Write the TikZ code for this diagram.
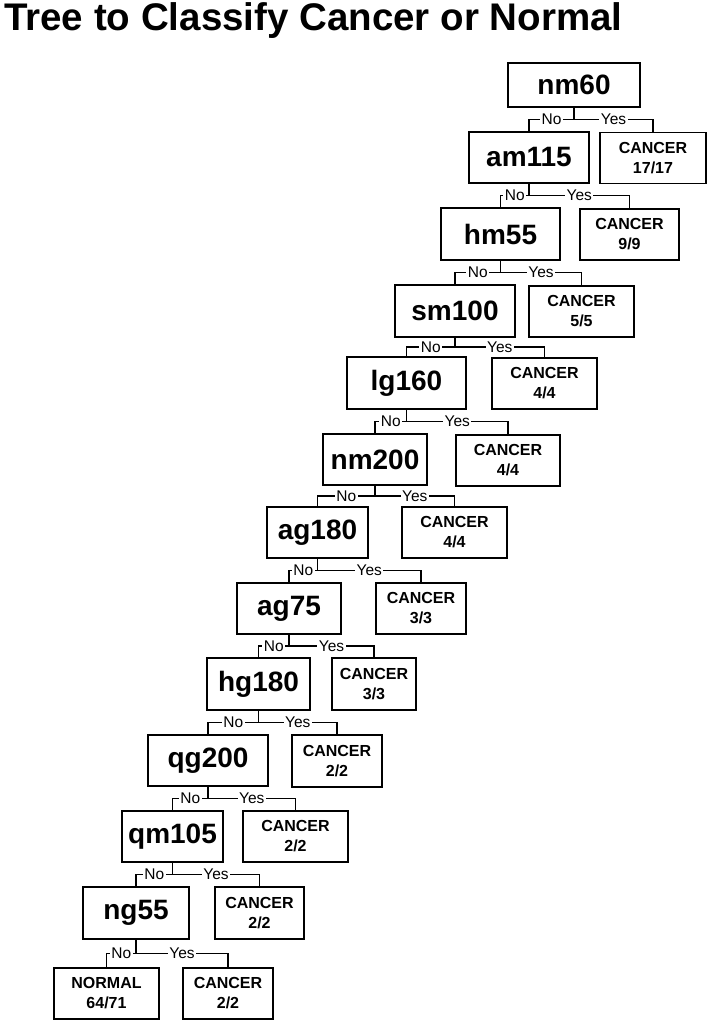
\documentclass[tikz,border=0pt]{standalone}
\usepackage{fontspec}
\setmainfont{Liberation Sans}
\usetikzlibrary{calc}
\tikzset{
  split/.style = {
    draw=black,
    line width=1.3pt,
    fill=white,
    inner sep=0pt,
    minimum height=51pt,
    font=\bfseries\fontsize{28}{30}\selectfont
  },
  leaf/.style = {
    draw=black,
    line width=1.3pt,
    fill=white,
    inner sep=0pt,
    minimum height=51pt,
    align=center,
    font=\bfseries\fontsize{16}{20}\selectfont
  },
  branch/.style = {
    fill=white,
    inner sep=1.5pt,
    font=\fontsize{15.5}{16}\selectfont
  },
  link/.style = {draw=black, line width=1.1pt},
  title/.style = {
    anchor=base west,
    inner sep=0pt,
    font=\bfseries\fontsize{38.5}{40}\selectfont
  },
}

\begin{document}
\begin{tikzpicture}[x=1pt,y=-1pt]
  \useasboundingbox (0,0) rectangle (707,1020);

  \node[title] (title) at (4,30) {Tree to Classify Cancer or Normal};

  % splits, top to bottom
  \node[split, minimum width=132pt, minimum height=44pt] (nm60) at (574,85) {nm60};
  \node[split, minimum width=120pt] (am115) at (529,157.5) {am115};
  \node[split, minimum width=119pt, minimum height=52pt] (hm55) at (500.5,234) {hm55};
  \node[split, minimum width=120pt, minimum height=52pt] (sm100) at (455,311) {sm100};
  \node[split, minimum width=119pt, minimum height=52pt] (lg160) at (406.5,383) {lg160};
  \node[split, minimum width=104pt] (nm200) at (375,459.5) {nm200};
  \node[split, minimum width=101pt] (ag180) at (317.5,532.5) {ag180};
  \node[split, minimum width=104pt] (ag75) at (289,608.5) {ag75};
  \node[split, minimum width=103pt, minimum height=52pt] (hg180) at (258.5,684) {hg180};
  \node[split, minimum width=120pt] (qg200) at (208,760.5) {qg200};
  \node[split, minimum width=101pt] (qm105) at (172.5,836.5) {qm105};
  \node[split, minimum width=106pt, minimum height=52pt] (ng55) at (136,913) {ng55};

  % leaves
  \node[leaf, minimum width=106pt] (cancer1) at (653,158) {CANCER\\17/17};
  \node[leaf, minimum width=99pt] (cancer2) at (629.5,234.5) {CANCER\\9/9};
  \node[leaf, minimum width=105pt] (cancer3) at (581.5,311.5) {CANCER\\5/5};
  \node[leaf, minimum width=105pt] (cancer4) at (544.5,383.5) {CANCER\\4/4};
  \node[leaf, minimum width=104pt] (cancer5) at (508,460.5) {CANCER\\4/4};
  \node[leaf, minimum width=105pt] (cancer6) at (454.5,532.5) {CANCER\\4/4};
  \node[leaf, minimum width=90pt] (cancer7) at (421,608.5) {CANCER\\3/3};
  \node[leaf, minimum width=84pt, minimum height=52pt] (cancer8) at (374,684) {CANCER\\3/3};
  \node[leaf, minimum width=90pt, minimum height=52pt] (cancer9) at (337,761) {CANCER\\2/2};
  \node[leaf, minimum width=105pt] (cancer10) at (295.5,836.5) {CANCER\\2/2};
  \node[leaf, minimum width=89pt, minimum height=52pt] (cancer11) at (259.5,913) {CANCER\\2/2};
  \node[leaf, minimum width=105pt] (normal) at (106.5,993.5) {NORMAL\\64/71};
  \node[leaf, minimum width=90pt] (cancer12) at (228,993.5) {CANCER\\2/2};

  % branches
  \foreach \p/\n/\y in {nm60/am115/cancer1, am115/hm55/cancer2, hm55/sm100/cancer3,
      sm100/lg160/cancer4, lg160/nm200/cancer5, nm200/ag180/cancer6, ag180/ag75/cancer7,
      ag75/hg180/cancer8, hg180/qg200/cancer9, qg200/qm105/cancer10, qm105/ng55/cancer11,
      ng55/normal/cancer12} {
    \draw[link] (\p.south) -- ($(\p.south)!0.5!(\p.south |- \n.north)$) coordinate (j);
    \draw[link] (\n.north) |- node[branch, pos=0.75] {No} (j)
      -| node[branch, pos=0.25] {Yes} (\y.north);
  }
\end{tikzpicture}
\end{document}
